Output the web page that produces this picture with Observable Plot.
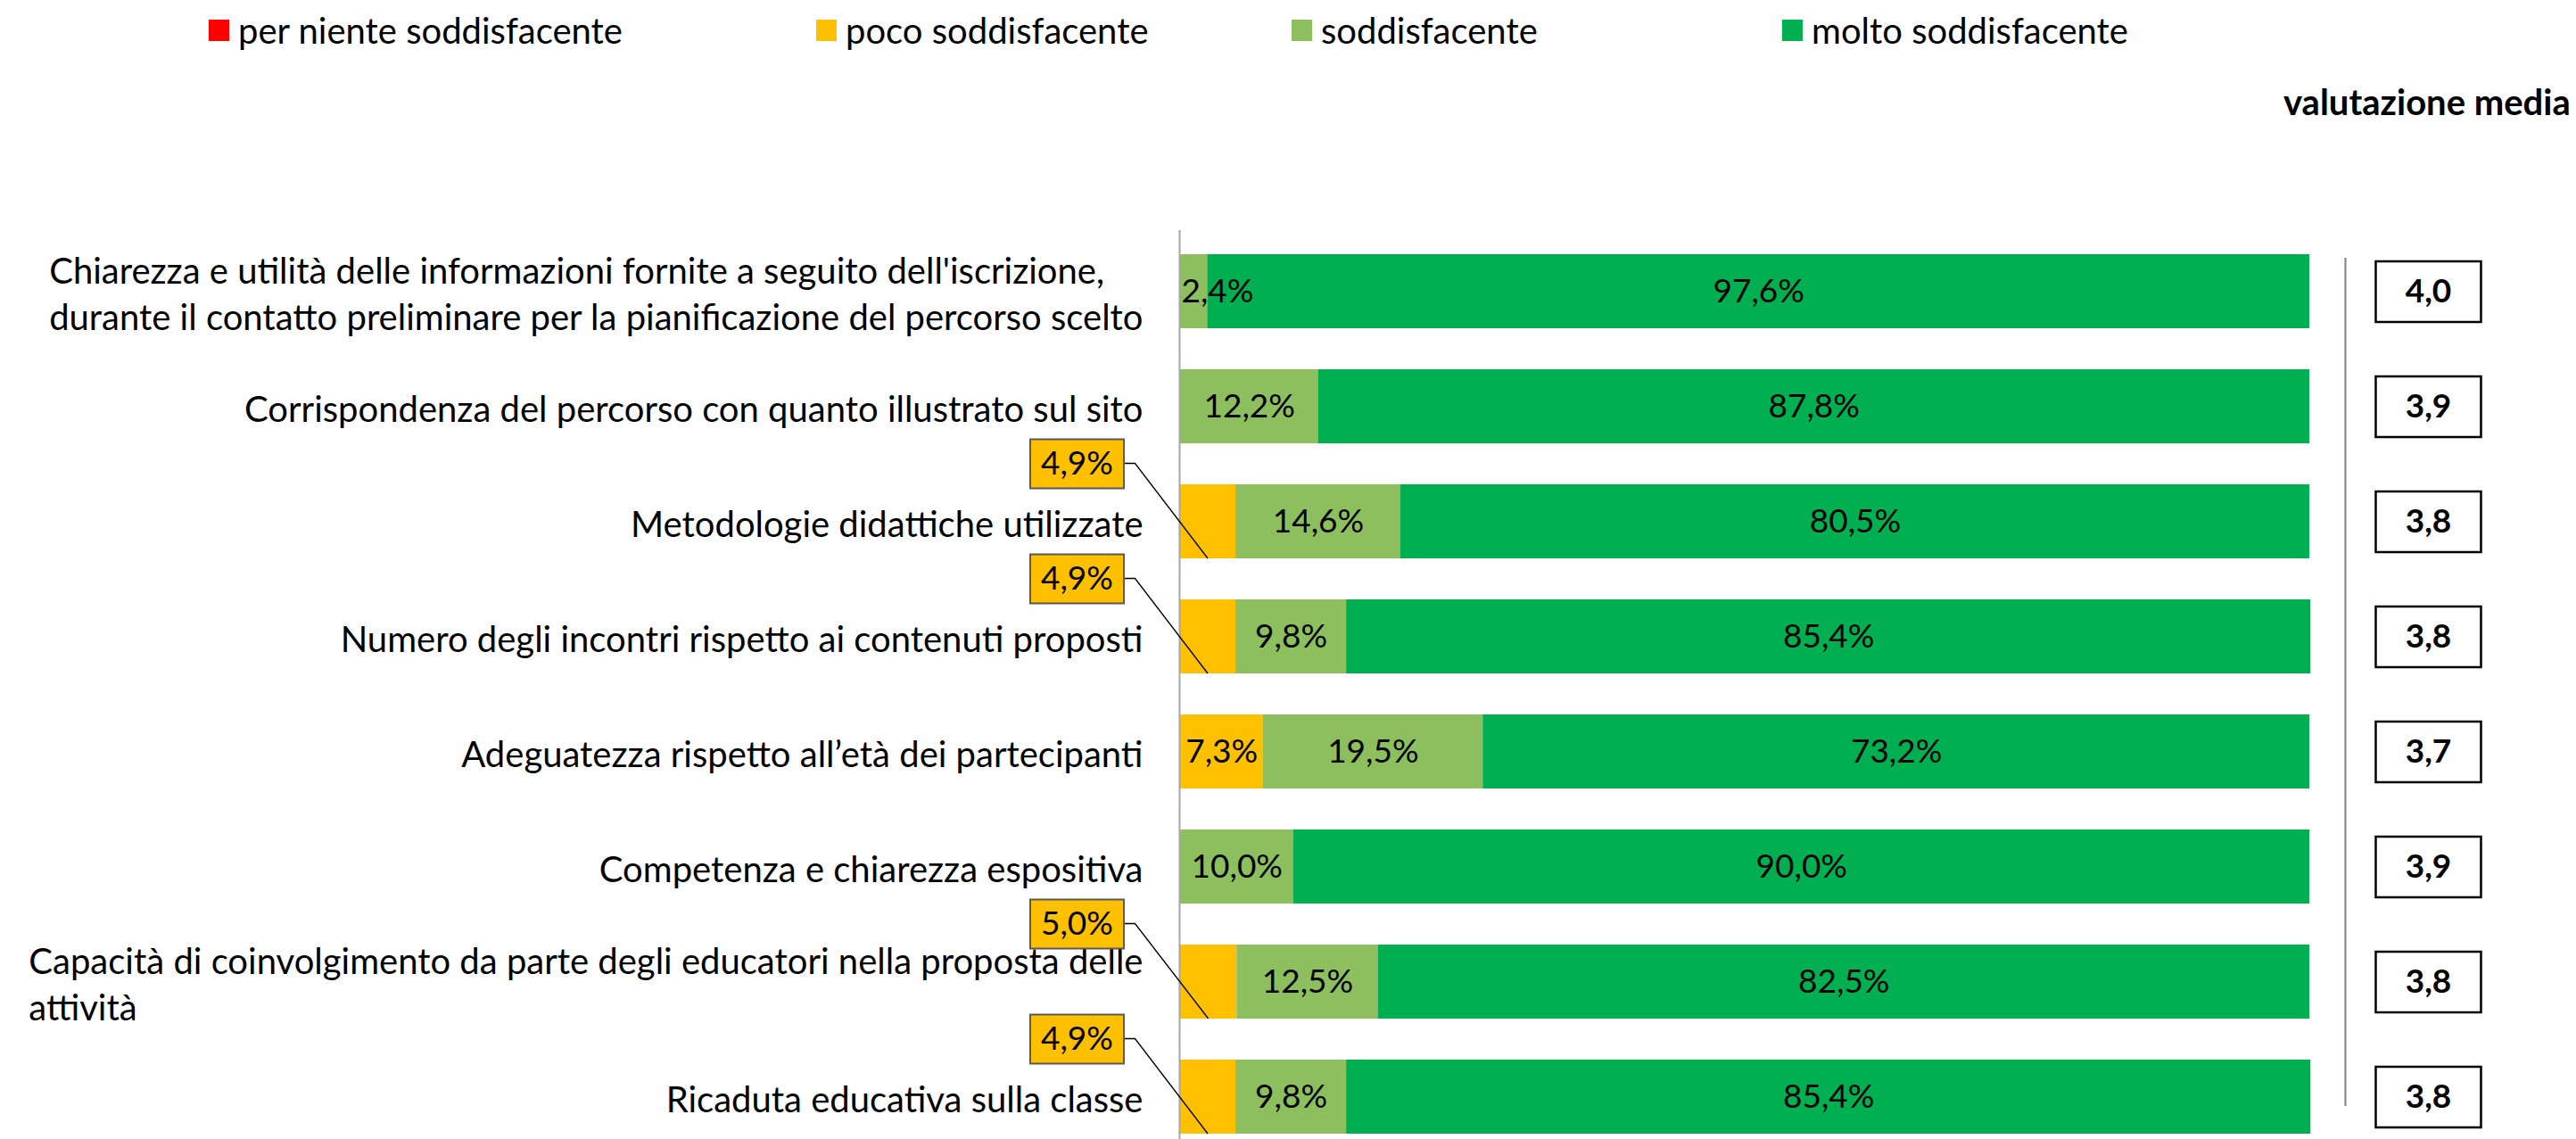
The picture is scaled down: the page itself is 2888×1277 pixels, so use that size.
<!DOCTYPE html>
<html><head><meta charset="utf-8">
<script src="https://cdn.jsdelivr.net/npm/d3@7"></script>
<script src="https://cdn.jsdelivr.net/npm/@observablehq/plot@0.6"></script>
<style>
body{margin:0;background:#fff;font-family:Lato,sans-serif;}
#wrap{position:relative;width:2888px;height:1277px;overflow:hidden;background:#fff}
.leg{position:absolute;top:14px;height:40px;display:flex;align-items:center;font-size:40px;color:#000;white-space:nowrap}
.sw{width:23px;height:24px;margin-right:10px;flex:none}
#avgTitle{position:absolute;left:2560px;top:90px;font-weight:bold;font-size:40px;white-space:nowrap}
#wrap svg{position:absolute;left:0;top:0}
</style></head><body><div id="wrap"></div>
<script>
const categories = [
  "Chiarezza e utilità delle informazioni fornite a seguito dell'iscrizione,\ndurante il contatto preliminare per la pianificazione del percorso scelto",
  "Corrispondenza del percorso con quanto illustrato sul sito",
  "Metodologie didattiche utilizzate",
  "Numero degli incontri rispetto ai contenuti proposti",
  "Adeguatezza rispetto all’età dei partecipanti",
  "Competenza e chiarezza espositiva",
  "Capacità di coinvolgimento da parte degli educatori nella proposta delle\nattività",
  "Ricaduta educativa sulla classe"
];
const seriesNames = ["per niente soddisfacente", "poco soddisfacente", "soddisfacente", "molto soddisfacente"];
const seriesColors = ["#ff0000", "#ffc000", "#8dbf5e", "#00b050"];
const perNienteValues = [0, 0, 0, 0, 0, 0, 0, 0];
const pocoValues = [0, 0, 4.9, 4.9, 7.3, 0, 5.0, 4.9];
const soddisfacenteValues = [2.4, 12.2, 14.6, 9.8, 19.5, 10.0, 12.5, 9.8];
const moltoValues = [97.6, 87.8, 80.5, 85.4, 73.2, 90.0, 82.5, 85.4];
const mediaValues = [4.0, 3.9, 3.8, 3.8, 3.7, 3.9, 3.8, 3.8];
const mediaTitle = "valutazione media";

const seriesValues = [perNienteValues, pocoValues, soddisfacenteValues, moltoValues];
const fmt1 = v => d3.format(".1f")(v).replace(".", ",");
const pct = v => fmt1(v) + "%";

// stacked rows
const rows = [];
categories.forEach((cat, i) => {
  let acc = 0;
  seriesNames.forEach((s, j) => {
    const v = seriesValues[j][i];
    rows.push({cat, series: s, value: v, x1: acc, x2: acc + v, mid: acc + v / 2});
    acc += v;
  });
});
const shown = rows.filter(d => d.value > 0);
const callouts = shown.filter(d => d.series === "poco soddisfacente" && d.value < 6);
const narrow = shown.filter(d => d.series !== "poco soddisfacente" && d.value < 6);
const inside = shown.filter(d => d.value >= 6);
const medie = categories.map((cat, i) => ({cat, media: mediaValues[i]}));

const calloutBox = {draw(ctx) { ctx.rect(-52.5, -27.5, 105, 55); }};
const avgBox = {draw(ctx) { ctx.rect(-59, -34, 118, 68); }};
const CALL_DX = -116, CALL_DY = -65;

const leaders = (index, scales) => {
  const g = d3.create("svg:g").attr("fill", "none").attr("stroke", "#000").attr("stroke-width", 1.3);
  const bw = scales.y && scales.y.bandwidth ? scales.y.bandwidth() : 83;
  for (const d of callouts) {
    const y0 = scales.y(d.cat);
    const cy = y0 + bw / 2 + CALL_DY;
    const bx = scales.x(0) + CALL_DX + 52.5;
    g.append("path").attr("d", `M${bx},${cy}H${bx + 13}L${scales.x(d.mid)},${y0 + bw}`);
  }
  return g.node();
};

const chart = Plot.plot({
  width: 2888, height: 1277,
  marginLeft: 1323, marginRight: 299, marginTop: 258, marginBottom: 0,
  x: {domain: [0, 100], axis: null},
  y: {domain: categories, axis: null, paddingInner: 0.36, paddingOuter: 0.1115, align: 0.796},
  color: {domain: seriesNames, range: seriesColors},
  style: {fontFamily: "Lato, sans-serif", fontSize: "37px", color: "#000", background: "#fff", overflow: "visible"},
  marks: [
    Plot.barX(shown, {x1: "x1", x2: "x2", y: "cat", fill: "series"}),
    Plot.ruleX([0], {stroke: "#a6a6a6", strokeWidth: 2, dx: -1}),
    Plot.ruleX([100], {dx: 40, insetTop: 31, insetBottom: 37, stroke: "#7f7f7f", strokeWidth: 2}),
    Plot.text(inside, {x: "mid", y: "cat", text: d => pct(d.value), textAnchor: "middle", fill: "#000", fontSize: 37}),
    Plot.text(narrow, {x: "x1", y: "cat", text: d => pct(d.value), textAnchor: "start", dx: 1, fill: "#000", fontSize: 37}),
    Plot.text(categories, {y: d => d, text: d => d, frameAnchor: "left", textAnchor: "end", dx: -42, lineHeight: 1.3, fontSize: 40, fill: "#000", ariaLabel: "cat-labels"}),
    leaders,
    Plot.dot(callouts, {y: "cat", frameAnchor: "left", dx: CALL_DX, dy: CALL_DY, symbol: calloutBox, r: 5, fill: "#ffc000", stroke: "#595959", strokeWidth: 2}),
    Plot.text(callouts, {y: "cat", frameAnchor: "left", dx: CALL_DX, dy: CALL_DY, text: d => pct(d.value), textAnchor: "middle", fill: "#000", fontSize: 37}),
    Plot.dot(medie, {y: "cat", frameAnchor: "right", dx: 133, symbol: avgBox, r: 5, fill: "#fff", stroke: "#000", strokeWidth: 2.5}),
    Plot.text(medie, {y: "cat", frameAnchor: "right", dx: 133, text: d => fmt1(d.media), textAnchor: "middle", fontWeight: "bold", fill: "#000", fontSize: 37})
  ]
});

const wrap = document.getElementById("wrap");
wrap.appendChild(chart);

// left-align lines of multi-line category labels inside a right-aligned block
chart.querySelectorAll("text").forEach(t => {
  const spans = t.querySelectorAll("tspan");
  if (spans.length > 1) {
    let w = 0;
    spans.forEach(s => { w = Math.max(w, s.getComputedTextLength()); });
    t.setAttribute("text-anchor", "start");
    t.style.textAnchor = "start";
    spans.forEach(s => s.setAttribute("x", -w));
  }
});

// legend
const legX = [234, 915, 1448, 1998];
seriesNames.forEach((s, i) => {
  const item = document.createElement("div");
  item.className = "leg";
  item.style.left = legX[i] + "px";
  item.innerHTML = `<div class="sw" style="background:${seriesColors[i]}"></div><span>${s}</span>`;
  wrap.appendChild(item);
});
const title = document.createElement("div");
title.id = "avgTitle";
title.textContent = mediaTitle;
wrap.appendChild(title);
</script></body></html>
